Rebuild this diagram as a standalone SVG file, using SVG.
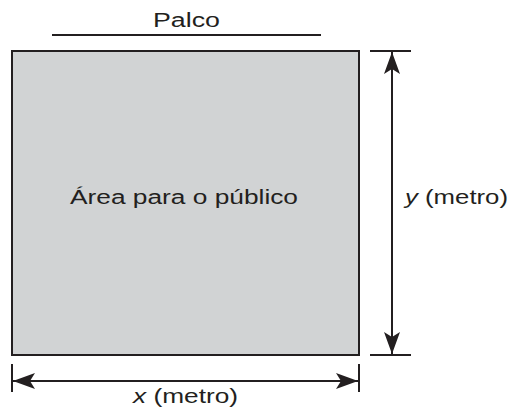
<svg xmlns="http://www.w3.org/2000/svg" width="510" height="407" viewBox="0 0 510 407">
<style>
text{font-family:"Liberation Sans",Arial,sans-serif;fill:#231f20;font-size:20px}
.ln{stroke:#231f20;stroke-width:2;fill:none}
</style>
<defs>
<marker id="ah" viewBox="0 0 22 16" refX="22" refY="8" markerWidth="22" markerHeight="16" markerUnits="userSpaceOnUse" orient="auto-start-reverse">
<path d="M0,0 L22,8 L0,16 L5,8 Z" fill="#231f20"/>
</marker>
</defs>
<rect width="510" height="407" fill="#fff"/>
<g id="palco">
<line class="ln" x1="52" y1="35" x2="321" y2="35"/>
<text x="153" y="27" textLength="67" lengthAdjust="spacingAndGlyphs">Palco</text>
</g>
<g id="area">
<rect x="12" y="51" width="347" height="304" fill="#d1d3d4" stroke="#231f20" stroke-width="2"/>
<text x="70" y="204" textLength="228" lengthAdjust="spacingAndGlyphs">Área para o público</text>
</g>
<g id="connectors">
<line class="ln" x1="370" y1="51" x2="411" y2="51"/>
<line class="ln" x1="370" y1="355" x2="411" y2="355"/>
<line class="ln" x1="392" y1="52" x2="392" y2="354" marker-start="url(#ah)" marker-end="url(#ah)"/>
<line class="ln" x1="12" y1="364" x2="12" y2="392"/>
<line class="ln" x1="359" y1="364" x2="359" y2="392"/>
<line class="ln" x1="13" y1="381" x2="358" y2="381" marker-start="url(#ah)" marker-end="url(#ah)"/>
</g>
<g id="labels">
<text x="405" y="204" textLength="103" lengthAdjust="spacingAndGlyphs"><tspan font-style="italic">y</tspan> (metro)</text>
<text x="133" y="403" textLength="105" lengthAdjust="spacingAndGlyphs"><tspan font-style="italic">x</tspan> (metro)</text>
</g>
</svg>
